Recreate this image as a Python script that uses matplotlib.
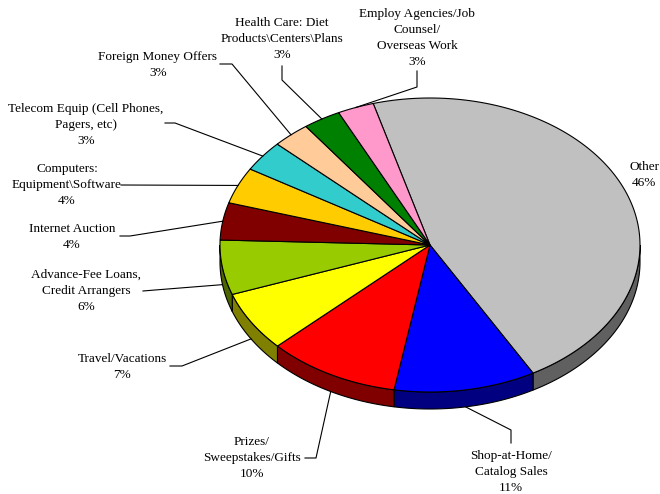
import numpy as np
import matplotlib
matplotlib.use("Agg")
import matplotlib.pyplot as plt
from matplotlib.patches import Polygon

# categories, clockwise starting from "Other"
categories = ["Other", "Shop-at-Home/\nCatalog Sales", "Prizes/\nSweepstakes/Gifts",
              "Travel/Vacations", "Advance-Fee Loans,\nCredit Arrangers",
              "Internet Auction", "Computers:\nEquipment\\Software",
              "Telecom Equip (Cell Phones,\nPagers, etc)", "Foreign Money Offers",
              "Health Care: Diet\nProducts\\Centers\\Plans",
              "Employ Agencies/Job\nCounsel/\nOverseas Work"]
shares = [46.2, 10.9, 10.2, 6.6, 6.0, 4.1, 4.0, 3.4, 2.9, 2.9, 2.8]
top_colors = ["#C0C0C0", "#0000FF", "#FF0000", "#FFFF00", "#99CC00", "#800000",
              "#FFCC00", "#33CCCC", "#FFCC99", "#008000", "#FF99CC"]
side_colors = ["#606060", "#000080", "#800000", "#808000", "#4D6600", "#400000",
               "#806600", "#1A6666", "#80664D", "#004000", "#804D66"]

# layout (pixel coordinates of the 660x494 canvas)
cx, cy, ra, rb, depth = 430, 245, 210, 147, 17
start = 105.7
# label centre and elbow of the leader line (None = no leader)
label_pos = [(644, 175), (511, 472), (252, 458), (122, 367), (86, 291), (72, 237),
             (67, 185), (86, 125), (158, 65), (282, 39), (417, 38)]
elbows = [None,
          [(511, 443), (511, 430)],
          [(305, 458), (316, 458)],
          [(170, 366), (182, 366)],
          [(143, 291), (155, 290)],
          [(120, 236), (130, 236)],
          [(121, 185)],
          [(165, 123), (175, 123)],
          [(220, 64), (232, 64)],
          [(282, 66), (282, 80)],
          [(417, 71), (417, 87)]]

plt.rcParams['font.family'] = ['Liberation Serif', 'DejaVu Serif']

fig = plt.figure(figsize=(6.6, 4.94), dpi=100)
ax = fig.add_axes([0, 0, 1, 1])
ax.set_xlim(0, 660)
ax.set_ylim(494, 0)
ax.axis("off")

total = sum(shares)
angles = [start]
for v in shares:
    angles.append(angles[-1] - 360.0 * v / total)


def ell(t):
    t = np.radians(t)
    return cx + ra * np.cos(t), cy - rb * np.sin(t)


# side faces (front half only)
for i in range(len(shares)):
    a0, a1 = angles[i], angles[i + 1]
    for k in range(-1, 2):
        lo, hi = -180 + 360 * k, 0 + 360 * k
        s0, s1 = max(min(a0, a1), lo), min(max(a0, a1), hi)
        if s1 - s0 <= 0:
            continue
        t = np.linspace(s0, s1, 60)
        x, y = ell(t)
        pts = np.vstack([np.column_stack([x, y]),
                         np.column_stack([x[::-1], y[::-1] + depth])])
        ax.add_patch(Polygon(pts, closed=True, facecolor=side_colors[i],
                             edgecolor="black", linewidth=0.8, zorder=1))

# top faces
for i in range(len(shares)):
    t = np.linspace(angles[i], angles[i + 1], 120)
    x, y = ell(t)
    pts = np.vstack([[cx, cy], np.column_stack([x, y])])
    ax.add_patch(Polygon(pts, closed=True, facecolor=top_colors[i],
                         edgecolor="black", linewidth=0.8, zorder=2))

# labels and leaders
for i, name in enumerate(categories):
    pct = "%d%%" % round(100 * shares[i] / total)
    lx, ly = label_pos[i]
    ax.text(lx, ly, name + "\n" + pct, ha="center", va="center",
            multialignment="center", fontsize=9.5, linespacing=1.45, zorder=4)
    if elbows[i] is None:
        continue
    mid = (angles[i] + angles[i + 1]) / 2.0
    ex, ey = ell(mid)
    if np.sin(np.radians(mid)) < 0:
        ey += depth
    pts = elbows[i] + [(ex, ey)]
    ax.plot([p[0] for p in pts], [p[1] for p in pts], color="black",
            linewidth=0.8, zorder=3)

fig.savefig("out.png", dpi=100)
